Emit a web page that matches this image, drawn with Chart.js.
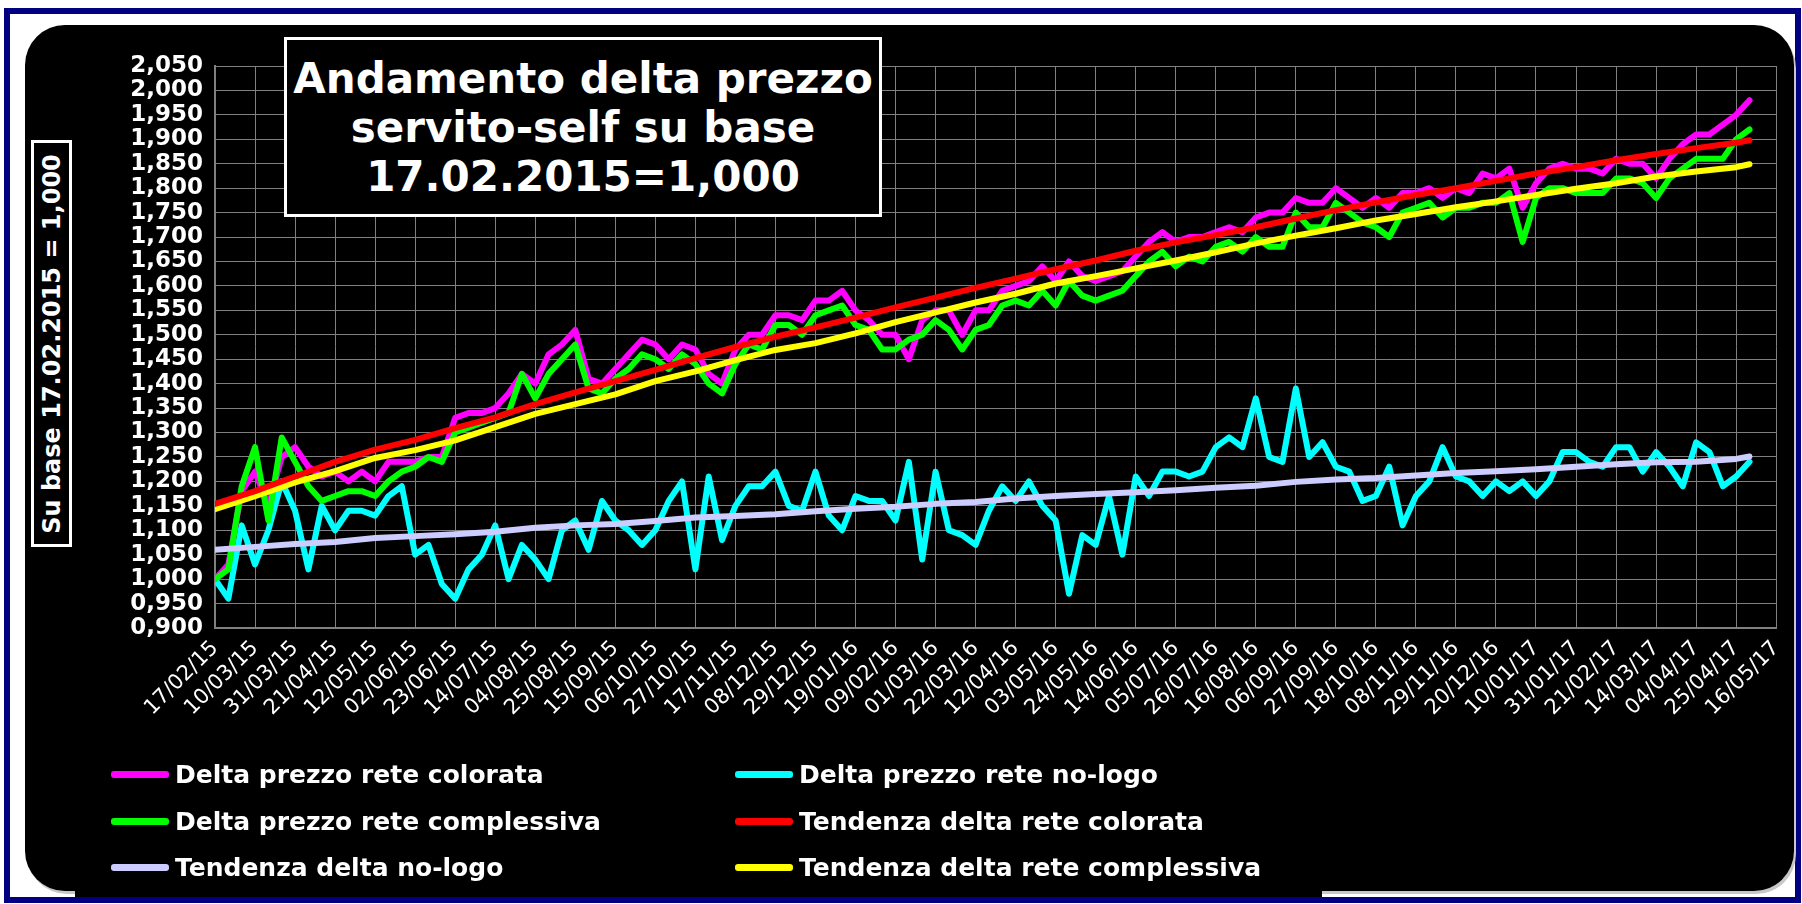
<!DOCTYPE html>
<html>
<head>
<meta charset="utf-8">
<script src="https://cdn.jsdelivr.net/npm/chart.js@4.4.1/dist/chart.umd.min.js"></script>
<style>
  html, body { margin: 0; padding: 0; background: #fff; }
  body { width: 1802px; height: 904px; position: relative; overflow: hidden; font-family: "DejaVu Sans", Verdana, sans-serif; }
  #frame { position: absolute; left: 4px; top: 8px; width: 1785px; height: 883px; border: 6px solid #000080; }
  #panel { position: absolute; left: 25px; top: 25px; width: 1769px; height: 866px; background: #000; border-radius: 40px; box-shadow: 2px 3px 0 #c8c8c8; }
  #legendBox { position: absolute; left: 75px; top: 700px; width: 1247px; height: 197px; background: #000; }
  #chart { position: absolute; left: 0; top: 0; }
  #title { position: absolute; left: 284px; top: 37px; width: 598px; height: 180px; box-sizing: border-box; border: 3px solid #fff; background: #000; color: #fff; font-weight: bold; font-size: 42px; line-height: 49px; text-align: center; display: flex; flex-direction: column; justify-content: center; }
  #ytitle { position: absolute; left: 31px; top: 140px; width: 41px; height: 407px; box-sizing: border-box; border: 3px solid #fff; background: #000; }
  #ytitle span { position: absolute; left: 50%; top: 50%; transform: translate(-50%, -50%) rotate(-90deg); white-space: nowrap; color: #fff; font-weight: bold; font-size: 24px; }
  .leg { position: absolute; color: #fff; font-weight: bold; font-size: 25px; white-space: nowrap; line-height: 30px; }
  .leg i { position: absolute; left: -64px; top: 11px; width: 58px; height: 7px; border-radius: 3px; }
</style>
</head>
<body>
<div id="frame"></div>
<div id="panel"></div>
<div id="legendBox"></div>
<canvas id="chart" width="1802" height="904"></canvas>
<div id="title"><div>Andamento delta prezzo</div><div>servito-self su base</div><div>17.02.2015=1,000</div></div>
<div id="ytitle"><span>Su base 17.02.2015 = 1,000</span></div>
<div id="legend"></div>
<script>
// giorni dal 17/02/2015 (campionamento settimanale)
const days = [0, 7, 14, 21, 28, 35, 42, 49, 56, 63, 70, 77, 84, 91,
  98, 105, 112, 119, 126, 133, 140, 147, 154, 161, 168, 175, 182, 189,
  196, 203, 210, 217, 224, 231, 238, 245, 252, 259, 266, 273, 280, 287, 294,
  301, 308, 315, 322, 329, 336, 343, 350, 357, 364, 371, 378, 385, 392,
  399, 406, 413, 420, 427, 434, 441, 448, 455, 462, 469, 476, 483, 490,
  497, 504, 511, 518, 525, 532, 539, 546, 553, 560, 567, 574, 581, 588, 595,
  602, 609, 616, 623, 630, 637, 644, 651, 658, 665, 672, 679, 686, 693,
  700, 707, 714, 721, 728, 735, 742, 749, 756, 763, 770, 777, 784, 791, 798, 805];

const colorata = [1.00, 1.03, 1.18, 1.22, 1.15, 1.25, 1.27, 1.23, 1.21, 1.22, 1.20, 1.22, 1.20, 1.24,
  1.24, 1.24, 1.25, 1.25, 1.33, 1.34, 1.34, 1.35, 1.38, 1.42, 1.40, 1.46, 1.48, 1.51,
  1.41, 1.40, 1.43, 1.46, 1.49, 1.48, 1.45, 1.48, 1.47, 1.42, 1.40, 1.47, 1.50, 1.50, 1.54,
  1.54, 1.53, 1.57, 1.57, 1.59, 1.55, 1.53, 1.50, 1.50, 1.45, 1.53, 1.55, 1.55, 1.50,
  1.55, 1.55, 1.59, 1.60, 1.61, 1.64, 1.61, 1.65, 1.62, 1.61, 1.62, 1.63, 1.66, 1.69,
  1.71, 1.69, 1.70, 1.70, 1.71, 1.72, 1.71, 1.74, 1.75, 1.75, 1.78, 1.77, 1.77, 1.80, 1.78,
  1.76, 1.78, 1.76, 1.79, 1.79, 1.80, 1.78, 1.80, 1.79, 1.83, 1.82, 1.84, 1.76, 1.81,
  1.84, 1.85, 1.84, 1.84, 1.83, 1.86, 1.85, 1.85, 1.82, 1.86, 1.89, 1.91, 1.91, 1.93, 1.95, 1.98];

const nologo = [1.00, 0.96, 1.11, 1.03, 1.10, 1.20, 1.14, 1.02, 1.15, 1.10, 1.14, 1.14, 1.13, 1.17,
  1.19, 1.05, 1.07, 0.99, 0.96, 1.02, 1.05, 1.11, 1.00, 1.07, 1.04, 1.00, 1.10, 1.12,
  1.06, 1.16, 1.12, 1.10, 1.07, 1.10, 1.16, 1.20, 1.02, 1.21, 1.08, 1.15, 1.19, 1.19, 1.22,
  1.15, 1.14, 1.22, 1.13, 1.10, 1.17, 1.16, 1.16, 1.12, 1.24, 1.04, 1.22, 1.10, 1.09,
  1.07, 1.14, 1.19, 1.16, 1.20, 1.15, 1.12, 0.97, 1.09, 1.07, 1.17, 1.05, 1.21, 1.17,
  1.22, 1.22, 1.21, 1.22, 1.27, 1.29, 1.27, 1.37, 1.25, 1.24, 1.39, 1.25, 1.28, 1.23, 1.22,
  1.16, 1.17, 1.23, 1.11, 1.17, 1.20, 1.27, 1.21, 1.20, 1.17, 1.20, 1.18, 1.20, 1.17,
  1.20, 1.26, 1.26, 1.24, 1.23, 1.27, 1.27, 1.22, 1.26, 1.23, 1.19, 1.28, 1.26, 1.19, 1.21, 1.24];

const complessiva = [1.00, 1.02, 1.19, 1.27, 1.12, 1.29, 1.24, 1.19, 1.16, 1.17, 1.18, 1.18, 1.17, 1.20,
  1.22, 1.23, 1.25, 1.24, 1.30, 1.31, 1.32, 1.33, 1.34, 1.42, 1.37, 1.42, 1.45, 1.48,
  1.39, 1.38, 1.41, 1.43, 1.46, 1.45, 1.43, 1.46, 1.44, 1.40, 1.38, 1.44, 1.48, 1.47, 1.52,
  1.52, 1.50, 1.54, 1.55, 1.56, 1.52, 1.51, 1.47, 1.47, 1.49, 1.50, 1.53, 1.51, 1.47,
  1.51, 1.52, 1.56, 1.57, 1.56, 1.59, 1.56, 1.61, 1.58, 1.57, 1.58, 1.59, 1.62, 1.65,
  1.67, 1.64, 1.66, 1.65, 1.68, 1.69, 1.67, 1.70, 1.68, 1.68, 1.75, 1.72, 1.72, 1.77, 1.75,
  1.73, 1.72, 1.70, 1.75, 1.76, 1.77, 1.74, 1.76, 1.76, 1.77, 1.77, 1.79, 1.69, 1.78,
  1.80, 1.80, 1.79, 1.79, 1.79, 1.82, 1.82, 1.81, 1.78, 1.82, 1.84, 1.86, 1.86, 1.86, 1.90, 1.92];

// linee di tendenza lette ogni 21 giorni
const trendDays = [0, 21, 42, 63, 84, 105, 126, 147, 168, 189, 210, 231, 252, 273, 294, 315, 336, 357, 378, 399,
  420, 441, 462, 483, 504, 525, 546, 567, 588, 609, 630, 651, 672, 693, 714, 735, 756, 777, 798, 805];

const trendColorata = [1.154, 1.180, 1.210, 1.240, 1.265, 1.285, 1.309, 1.331, 1.358, 1.382, 1.405, 1.428, 1.452, 1.475,
  1.496, 1.515, 1.535, 1.556, 1.576, 1.596, 1.615, 1.634, 1.652, 1.672, 1.689, 1.704, 1.720, 1.738, 1.755,
  1.771, 1.786, 1.800, 1.815, 1.830, 1.843, 1.857, 1.870, 1.882, 1.893, 1.898];

const trendNologo = [1.060, 1.066, 1.072, 1.076, 1.084, 1.088, 1.092, 1.097, 1.105, 1.110, 1.113, 1.119, 1.126, 1.129,
  1.133, 1.139, 1.144, 1.148, 1.154, 1.158, 1.165, 1.170, 1.174, 1.178, 1.182, 1.187, 1.191, 1.199, 1.204,
  1.207, 1.212, 1.217, 1.221, 1.225, 1.230, 1.235, 1.239, 1.240, 1.246, 1.251];

const trendComplessiva = [1.143, 1.170, 1.198, 1.221, 1.248, 1.264, 1.284, 1.311, 1.338, 1.358, 1.378, 1.405, 1.425, 1.448,
  1.469, 1.483, 1.503, 1.526, 1.546, 1.566, 1.584, 1.605, 1.620, 1.636, 1.652, 1.669, 1.687, 1.703, 1.718,
  1.734, 1.747, 1.761, 1.773, 1.786, 1.799, 1.810, 1.824, 1.834, 1.843, 1.849];

const baseDate = Date.UTC(2015, 1, 17);

function fmtDate(d) {
  const dt = new Date(baseDate + d * 86400000);
  const p = n => String(n).padStart(2, '0');
  return p(dt.getUTCDate()) + '/' + p(dt.getUTCMonth() + 1) + '/' + p(dt.getUTCFullYear() % 100);
}

function pts(xs, ys) {
  return xs.map((x, i) => ({ x: x, y: ys[i] }));
}

function line(label, color, xs, ys, order) {
  return {
    label: label,
    data: pts(xs, ys),
    borderColor: color,
    backgroundColor: color,
    borderWidth: 6,
    pointRadius: 0,
    tension: 0,
    borderJoinStyle: 'round',
    borderCapStyle: 'round',
    order: order
  };
}

const datasets = [
  line('Delta prezzo rete colorata', '#ff00ff', days, colorata, 2),
  line('Delta prezzo rete no-logo', '#00ffff', days, nologo, 2),
  line('Delta prezzo rete complessiva', '#00ff00', days, complessiva, 1),
  line('Tendenza delta rete colorata', '#ff0000', trendDays, trendColorata, 0),
  line('Tendenza delta no-logo', '#ccccff', trendDays, trendNologo, 0),
  line('Tendenza delta rete complessiva', '#ffff00', trendDays, trendComplessiva, 0)
];

const ctx = document.getElementById('chart').getContext('2d');

const chart = new Chart(ctx, {
  type: 'line',
  data: { datasets: datasets },
  options: {
    animation: false,
    responsive: false,
    layout: { padding: { left: 0, top: 66, right: 25, bottom: 156 } },
    plugins: { legend: { display: false }, tooltip: { enabled: false } },
    scales: {
      x: {
        type: 'linear',
        min: 0,
        max: 819,
        afterFit: s => { s.height = 120; },
        grid: { color: '#808080', lineWidth: 1, drawTicks: false },
        border: { color: '#808080', width: 2 },
        ticks: {
          stepSize: 21,
          autoSkip: false,
          minRotation: 45,
          maxRotation: 45,
          padding: 8,
          color: '#fff',
          font: { family: 'DejaVu Sans', size: 21 },
          callback: v => fmtDate(v)
        }
      },
      y: {
        min: 0.9,
        max: 2.05,
        afterFit: s => { s.width = 215; },
        grid: { color: '#808080', lineWidth: 1, drawTicks: false },
        border: { color: '#808080', width: 2 },
        ticks: {
          stepSize: 0.05,
          autoSkip: false,
          padding: 12,
          color: '#fff',
          font: { family: 'DejaVu Sans', size: 23, weight: 'bold' },
          callback: v => v.toFixed(3).replace('.', ',')
        }
      }
    }
  }
});

// legenda su due colonne
const legendPos = [[175, 760], [799, 760], [175, 807], [799, 807], [175, 853], [799, 853]];
const legendEl = document.getElementById('legend');
chart.data.datasets.forEach((ds, k) => {
  const el = document.createElement('div');
  el.className = 'leg';
  el.style.left = legendPos[k][0] + 'px';
  el.style.top = legendPos[k][1] + 'px';
  el.innerHTML = '<i style="background:' + ds.borderColor + '"></i>' + ds.label;
  legendEl.appendChild(el);
});
</script>
</body>
</html>
